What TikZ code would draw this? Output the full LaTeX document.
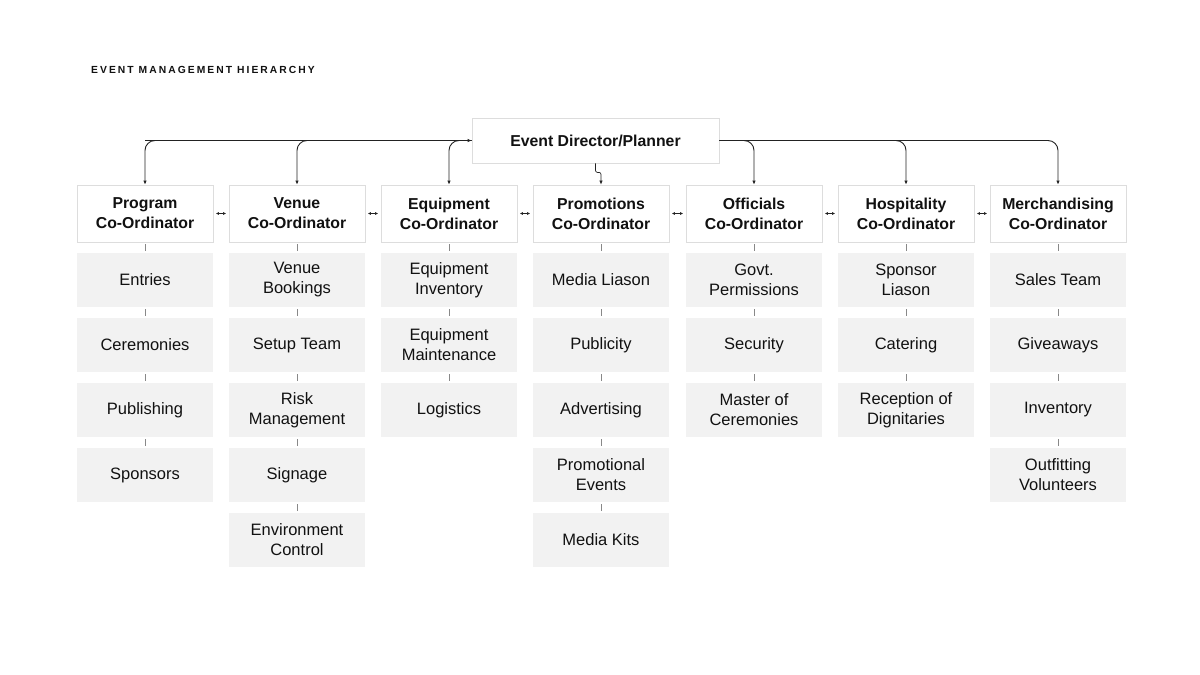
\documentclass[tikz,border=0pt]{standalone}
\usepackage{fontspec}
\setmainfont{Liberation Sans}
\usetikzlibrary{arrows.meta}
\definecolor{txt}{HTML}{111111}
\definecolor{subfill}{HTML}{F2F2F2}
\definecolor{bord}{HTML}{DDDDDD}
\definecolor{lnk}{HTML}{222222}
\definecolor{sublnk}{HTML}{888888}
\tikzset{
  coord/.style={draw=bord, line width=0.8pt, fill=white, minimum width=136pt, minimum height=57pt, inner sep=0pt, align=center, font=\fontsize{15.8}{20}\selectfont\bfseries, text=txt},
  dirbox/.style={draw=bord, line width=0.8pt, fill=white, minimum width=247pt, minimum height=45pt, inner sep=0pt, align=center, font=\fontsize{15.8}{20}\selectfont\bfseries, text=txt},
  subbox/.style={fill=subfill, minimum width=136pt, minimum height=54pt, inner sep=0pt, align=center, font=\fontsize{16.5}{20}\selectfont, text=txt},
  toplink/.style={draw=lnk, line width=0.9pt, rounded corners=10pt},
  sublink/.style={draw=sublnk, line width=0.6pt},
  peer/.style={draw=lnk, line width=0.7pt, {Latex[length=3pt,width=3pt]}-{Latex[length=3pt,width=3pt]}},
  tip/.style={-{Latex[length=4pt,width=3.5pt]}}
}
\begin{document}
\begin{tikzpicture}[x=1pt,y=-1pt]
\useasboundingbox (0,0) rectangle (1200,675);
\node[anchor=west, text=txt, inner sep=0pt, font=\fontsize{10.3}{12}\selectfont\bfseries\addfontfeatures{LetterSpace=20}] (title) at (91,70) {EVENT MANAGEMENT HIERARCHY};

\node[dirbox] (dir) at (595.5,140.5) {Event Director/Planner};

\foreach \i/\x/\t in {1/145/Program,2/297/Venue,3/449/Equipment,4/601/Promotions,5/754/Officials,6/906/Hospitality,7/1058/Merchandising}{
  \node[coord] (c\i) at (\x,213.5) {\t\\Co-Ordinator};
}

% sub boxes
\def\ya{280}\def\yb{345}\def\yc{410}\def\yd{475}\def\ye{540}
\node[subbox] (p1) at (145,\ya) {Entries};
\node[subbox] (p2) at (145,\yb) {Ceremonies};
\node[subbox] (p3) at (145,\yc) {Publishing};
\node[subbox] (p4) at (145,\yd) {Sponsors};

\node[subbox] (v1) at (297,\ya) {Venue\\Bookings};
\node[subbox] (v2) at (297,\yb) {Setup Team};
\node[subbox] (v3) at (297,\yc) {Risk\\Management};
\node[subbox] (v4) at (297,\yd) {Signage};
\node[subbox] (v5) at (297,\ye) {Environment\\Control};

\node[subbox] (e1) at (449,\ya) {Equipment\\Inventory};
\node[subbox] (e2) at (449,\yb) {Equipment\\Maintenance};
\node[subbox] (e3) at (449,\yc) {Logistics};

\node[subbox] (m1) at (601,\ya) {Media Liason};
\node[subbox] (m2) at (601,\yb) {Publicity};
\node[subbox] (m3) at (601,\yc) {Advertising};
\node[subbox] (m4) at (601,\yd) {Promotional\\Events};
\node[subbox] (m5) at (601,\ye) {Media Kits};

\node[subbox] (o1) at (754,\ya) {Govt.\\Permissions};
\node[subbox] (o2) at (754,\yb) {Security};
\node[subbox] (o3) at (754,\yc) {Master of\\Ceremonies};

\node[subbox] (h1) at (906,\ya) {Sponsor\\Liason};
\node[subbox] (h2) at (906,\yb) {Catering};
\node[subbox] (h3) at (906,\yc) {Reception of\\Dignitaries};

\node[subbox] (s1) at (1058,\ya) {Sales Team};
\node[subbox] (s2) at (1058,\yb) {Giveaways};
\node[subbox] (s3) at (1058,\yc) {Inventory};
\node[subbox] (s4) at (1058,\yd) {Outfitting\\Volunteers};

% sub links
\foreach \a/\b in {c1/p1,p1/p2,p2/p3,p3/p4,
                   c2/v1,v1/v2,v2/v3,v3/v4,v4/v5,
                   c3/e1,e1/e2,e2/e3,
                   c4/m1,m1/m2,m2/m3,m3/m4,m4/m5,
                   c5/o1,o1/o2,o2/o3,
                   c6/h1,h1/h2,h2/h3,
                   c7/s1,s1/s2,s2/s3,s3/s4}{
  \draw[sublink] ([yshift=-2pt]\a.south) -- ([yshift=2pt]\b.north);
}

% director links
\draw[toplink, tip] (dir.west) -| (c1.north);
\draw[toplink, tip] (dir.west) -| (c2.north);
\draw[toplink, tip] (dir.west) -| (c3.north);
\draw[toplink, tip] (c1.north |- dir.west) -- (dir.west);
\draw[toplink, tip] (dir.east) -| (c5.north);
\draw[toplink, tip] (dir.east) -| (c6.north);
\draw[toplink, tip] (dir.east) -| (c7.north);
\draw[draw=lnk, line width=0.7pt, rounded corners=2pt, tip] (dir.south) -- ++(0,9) -| (c4.north);

% peer links
\foreach \a/\b in {c1/c2,c2/c3,c3/c4,c4/c5,c5/c6,c6/c7}{
  \draw[peer] ([xshift=2.5pt]\a.east) -- ([xshift=-2.5pt]\b.west);
}
\end{tikzpicture}
\end{document}
